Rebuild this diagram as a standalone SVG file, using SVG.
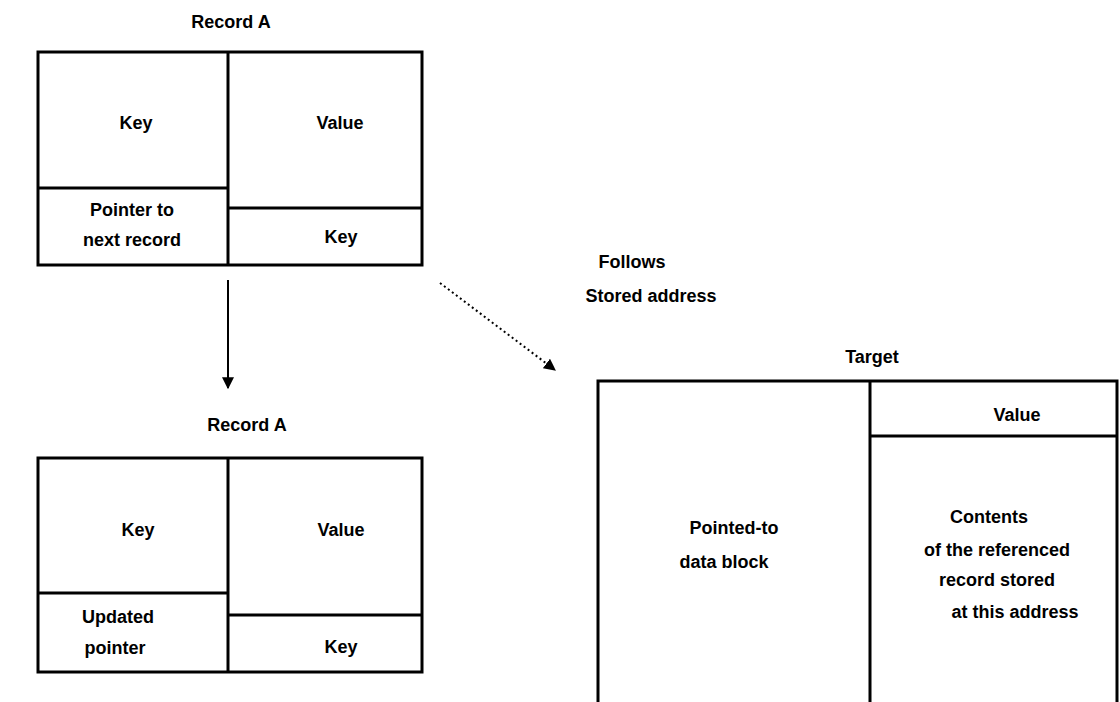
<svg xmlns="http://www.w3.org/2000/svg" width="1120" height="702" viewBox="0 0 1120 702">
<style>
.box{fill:none;stroke:#000;stroke-width:3}
.ln{stroke:#000;stroke-width:3}
text{font-family:"Liberation Sans",Arial,sans-serif;font-weight:bold;font-size:18px;fill:#000;text-anchor:middle;dominant-baseline:central}
.con{stroke:#000;stroke-width:2;fill:none}
</style>
<defs>
<marker id="ah" viewBox="0 0 10 10" refX="9" refY="5" markerWidth="6" markerHeight="6" orient="auto-start-reverse">
<path d="M0,0 L10,5 L0,10 z" fill="#000"/>
</marker>
</defs>
<rect width="1120" height="702" fill="#fff"/>
<g id="node1">
<text x="231" y="22">Record A</text>
<rect class="box" x="38" y="52" width="384" height="213"/>
<line class="ln" x1="228" y1="52" x2="228" y2="265"/>
<line class="ln" x1="38" y1="188" x2="228" y2="188"/>
<line class="ln" x1="228" y1="208" x2="422" y2="208"/>
<text x="136" y="123">Key</text>
<text x="340" y="123">Value</text>
<text x="132" y="210">Pointer to</text>
<text x="132" y="240">next record</text>
<text x="341" y="237">Key</text>
</g>
<g id="node2">
<text x="247" y="425">Record A</text>
<rect class="box" x="38" y="458" width="384" height="214"/>
<line class="ln" x1="228" y1="458" x2="228" y2="672"/>
<line class="ln" x1="38" y1="593" x2="228" y2="593"/>
<line class="ln" x1="228" y1="615" x2="422" y2="615"/>
<text x="138" y="530">Key</text>
<text x="341" y="530">Value</text>
<text x="118" y="617">Updated</text>
<text x="115" y="648">pointer</text>
<text x="341" y="647">Key</text>
</g>
<g id="node3">
<text x="872" y="357">Target</text>
<path class="box" d="M598,710 L598,381 L1117,381 L1117,710"/>
<line class="ln" x1="870" y1="381" x2="870" y2="710"/>
<line class="ln" x1="870" y1="436" x2="1117" y2="436"/>
<text x="1017" y="415">Value</text>
<text x="734" y="528">Pointed-to</text>
<text x="724" y="562">data block</text>
<text x="989" y="517">Contents</text>
<text x="997" y="550">of the referenced</text>
<text x="997" y="580">record stored</text>
<text x="1015" y="612">at this address</text>
</g>
<g id="connectors">
<line class="con" x1="228" y1="280" x2="228" y2="388" marker-end="url(#ah)"/>
<line class="con" x1="440" y1="283" x2="555" y2="370" stroke-dasharray="2,3" marker-end="url(#ah)"/>
<text x="632" y="262">Follows</text>
<text x="651" y="296">Stored address</text>
</g>
</svg>
